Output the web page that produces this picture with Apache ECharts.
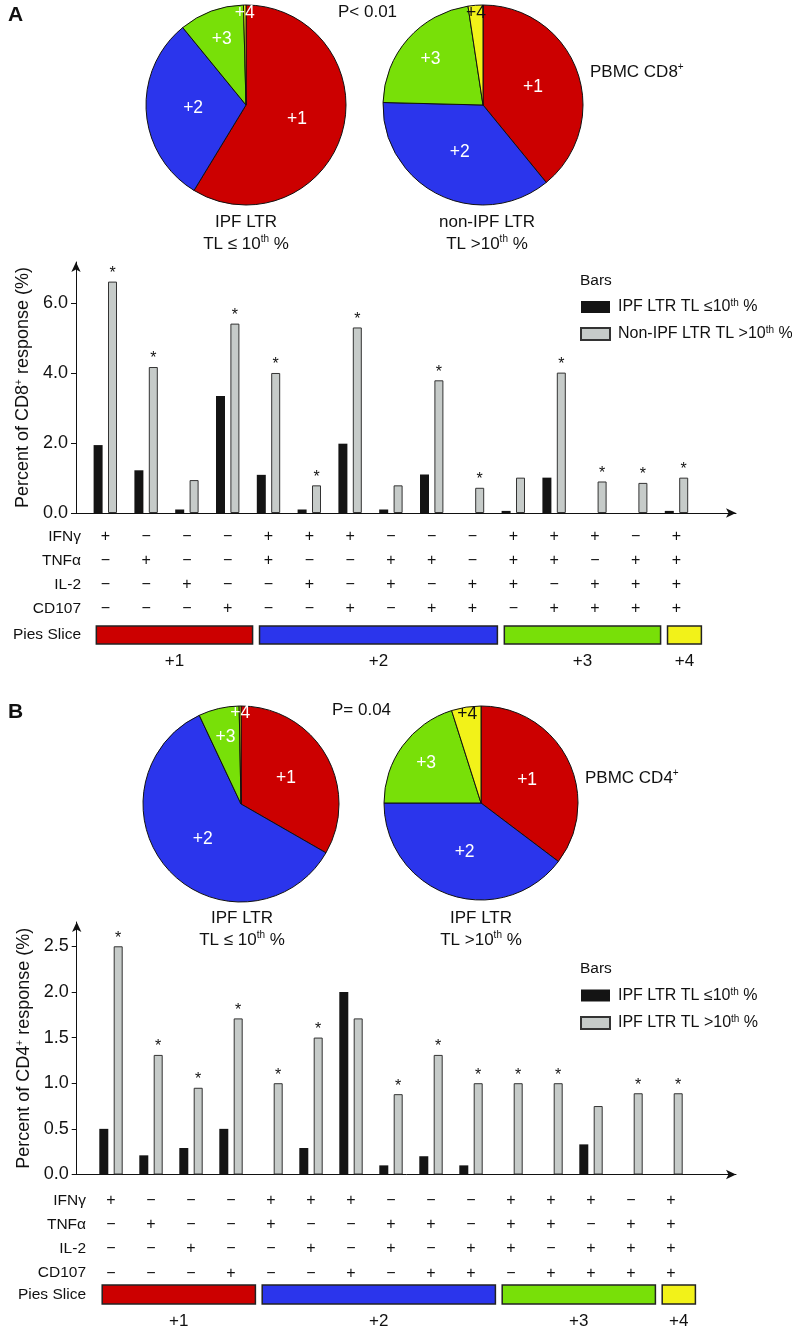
<!DOCTYPE html>
<html>
<head>
<meta charset="utf-8">
<script src="https://cdn.jsdelivr.net/npm/echarts@6/dist/echarts.min.js"></script>
<style>
  html, body { margin: 0; padding: 0; background: #fff; }
  #chart { width: 792px; height: 1330px; }
</style>
</head>
<body>
<div id="chart"></div>
<script>
// cytokine combinations (same order in both panels)
const IFNg  = ['+','−','−','−','+','+','+','−','−','−','+','+','+','−','+'];
const TNFa  = ['−','+','−','−','+','−','−','+','+','−','+','+','−','+','+'];
const IL2   = ['−','−','+','−','−','+','−','+','−','+','+','−','+','+','+'];
const CD107 = ['−','−','−','+','−','−','+','−','+','+','−','+','+','+','+'];
const rowNames = ['IFNγ', 'TNFα', 'IL-2', 'CD107', 'Pies Slice'];

// pie slices: [first combo, last combo] of each group
const sliceNames = ['+1', '+2', '+3', '+4'];
const sliceGroups = [[0, 3], [4, 9], [10, 13], [14, 14]];

// panel A - CD8
const cd8PieLow  = [58.7, 30.4, 10.5, 0.4];
const cd8PieHigh = [39.1, 36.3, 22.2, 2.4];
const cd8Low  = [1.94, 1.22, 0.10, 3.34, 1.09, 0.10, 1.98, 0.10, 1.10, 0, 0.06, 1.01, 0, 0, 0.06];
const cd8High = [6.61, 4.17, 0.94, 5.41, 4.00, 0.79, 5.30, 0.79, 3.79, 0.72, 1.01, 4.01, 0.90, 0.86, 1.01];
const cd8Sig  = [1, 1, 0, 1, 1, 1, 1, 0, 1, 1, 0, 1, 1, 1, 1];
const cd8Ticks = [0, 2, 4, 6];

// panel B - CD4
const cd4PieLow  = [33.3, 59.7, 6.7, 0.3];
const cd4PieHigh = [35.3, 39.7, 20.1, 4.9];
const cd4Low  = [0.50, 0.21, 0.29, 0.50, 0, 0.29, 2.00, 0.10, 0.20, 0.10, 0, 0, 0.33, 0, 0];
const cd4High = [2.50, 1.31, 0.95, 1.71, 1.00, 1.50, 1.71, 0.88, 1.31, 1.00, 1.00, 1.00, 0.75, 0.89, 0.89];
const cd4Sig  = [1, 1, 1, 1, 1, 1, 0, 1, 1, 1, 1, 1, 0, 1, 1];
const cd4Ticks = [0, 0.5, 1, 1.5, 2, 2.5];

const cats = IFNg.map((v, i) => v + TNFa[i] + IL2[i] + CD107[i]);

const FONT = '"Liberation Sans", Arial, sans-serif';
const INK = '#111';
const sliceColors = ['#cc0000', '#2b35ec', '#78e008', '#f2f219'];
const SUP = { sup: { fontSize: 10, verticalAlign: 'top', lineHeight: 10, fontFamily: FONT, fill: INK, color: INK } };
const supText = s => s.replace('10th', '10{sup|th}');

const chart = echarts.init(document.getElementById('chart'));

function txt(x, y, text, opt) {
  return {
    type: 'text', x: x, y: y, silent: true,
    style: Object.assign({
      text: text, fontFamily: FONT, fontSize: 17, fill: INK,
      align: 'left', verticalAlign: 'middle', lineHeight: 20, rich: SUP
    }, opt || {})
  };
}

/** pie with inside labels, small slices pushed outwards */
function pieSeries(values, center, r) {
  const total = values.reduce((a, b) => a + b, 0);
  return {
    type: 'pie', center: center, radius: r, startAngle: 90, clockwise: true,
    silent: true, animation: false,
    itemStyle: { borderColor: INK, borderWidth: 1 },
    label: { show: true, position: 'inside', formatter: '{b}', fontFamily: FONT, fontSize: 17.5 },
    labelLine: { show: false },
    labelLayout: function (p) {
      const share = values[p.dataIndex] / total;
      const f = share < 0.05 ? 0.87 : share < 0.25 ? 0.66 : 0.5;
      const k = f / 0.5 - 1;
      const lx = p.labelRect.x + p.labelRect.width / 2;
      const ly = p.labelRect.y + p.labelRect.height / 2;
      return { dx: k * (lx - center[0]), dy: k * (ly - center[1]) };
    },
    data: values.map((v, i) => ({
      value: v, name: sliceNames[i],
      itemStyle: { color: sliceColors[i] },
      label: { color: (i === 3 && v > 1) ? INK : '#fff' }
    }))
  };
}

/** one bar panel: bars grid, frame grid (axes with arrows), slice row grid */
function panel(cfg) {
  const g0 = cfg.gridBase;
  const grids = [
    { left: cfg.barLeft, width: cfg.step * 15, top: cfg.top, height: cfg.zero - cfg.top },
    { left: cfg.frameLeft, width: cfg.frameRight - cfg.frameLeft, top: cfg.top, height: cfg.zero - cfg.top },
    { left: cfg.barLeft, width: cfg.step * 15, top: cfg.boxTop, height: cfg.boxH }
  ];
  const axisLine = { show: true, lineStyle: { color: INK, width: 1 }, symbol: ['none', 'arrow'], symbolSize: [7, 10] };
  const xAxes = [
    { gridIndex: g0, type: 'category', data: cats,
      axisLine: { show: false }, axisTick: { show: false },
      axisLabel: { interval: 0, formatter: v => v.split('').join('\n'), fontFamily: FONT, fontSize: 16,
        color: INK, lineHeight: cfg.rowGap, margin: cfg.rowMargin } },
    { gridIndex: g0 + 1, type: 'value', min: 0, max: 1, axisLine: axisLine,
      axisTick: { show: false }, axisLabel: { show: false }, splitLine: { show: false } },
    { gridIndex: g0 + 2, type: 'category', data: cats, show: false }
  ];
  const yAxes = [
    { gridIndex: g0, type: 'value', min: 0, max: cfg.yMax, show: false, splitLine: { show: false } },
    { gridIndex: g0 + 1, type: 'value', min: 0, max: cfg.yMax, axisLine: axisLine,
      axisTick: { show: true, length: 5, lineStyle: { color: INK }, customValues: cfg.ticks },
      axisLabel: { customValues: cfg.ticks, formatter: v => v.toFixed(1), fontFamily: FONT, fontSize: 18, color: INK, margin: 8 },
      splitLine: { show: false },
      name: cfg.yName, nameLocation: 'middle', nameGap: 41,
      nameTextStyle: { fontFamily: FONT, fontSize: 18, color: INK, rich: SUP } },
    { gridIndex: g0 + 2, type: 'value', min: 0, max: 1, show: false }
  ];
  const series = [
    { type: 'bar', name: cfg.names[0], xAxisIndex: cfg.axBase, yAxisIndex: cfg.axBase,
      barWidth: 9, barGap: '60%', itemStyle: { color: '#141414' }, data: cfg.low, animation: false },
    { type: 'bar', name: cfg.names[1], xAxisIndex: cfg.axBase, yAxisIndex: cfg.axBase,
      barWidth: 9, barGap: '60%', itemStyle: { color: '#c6cbc9', borderColor: '#333', borderWidth: 1 },
      label: { position: 'top', distance: 0, formatter: '*', fontFamily: FONT, fontSize: 16, color: INK },
      data: cfg.high.map((v, i) => ({ value: v, label: { show: !!cfg.sig[i] } })), animation: false },
    { type: 'custom', xAxisIndex: cfg.axBase + 2, yAxisIndex: cfg.axBase + 2, silent: true, animation: false,
      data: sliceGroups.map((g, i) => [g[0], g[1], i]),
      renderItem: function (params, api) {
        const bw = api.size([1, 0])[0];
        const x0 = api.coord([api.value(0), 0])[0] - bw * (0.5 - 0.28);
        const x1 = api.coord([api.value(1), 0])[0] + bw * (0.5 + 0.11);
        const gi = api.value(2);
        const cs = params.coordSys;
        return { type: 'group', children: [
          { type: 'rect', shape: { x: x0, y: cs.y, width: x1 - x0, height: cs.height },
            style: { fill: sliceColors[gi], stroke: '#222', lineWidth: 1.5 } },
          { type: 'text', style: { text: sliceNames[gi], x: (x0 + x1) / 2, y: cs.y + cs.height + 17,
            align: 'center', verticalAlign: 'middle', fontFamily: FONT, fontSize: 17, fill: INK } }
        ] };
      } }
  ];
  const firstRow = cfg.zero + cfg.rowMargin + cfg.rowGap / 2;
  const labels = rowNames.map((n, i) => txt(cfg.rowRight, i < 4 ? firstRow + i * cfg.rowGap : cfg.boxTop + cfg.boxH / 2,
    n, { align: 'right', fontSize: 15.5 }));
  const legend = {
    left: 580, top: cfg.legendTop, orient: 'vertical', padding: 0,
    itemWidth: 29, itemHeight: 12, itemGap: cfg.legendGap,
    icon: 'rect', selectedMode: false, data: cfg.names,
    formatter: supText,
    textStyle: { fontFamily: FONT, fontSize: 16, color: INK, lineHeight: 17, padding: [0, 0, 0, 3], rich: SUP }
  };
  labels.push(txt(580, cfg.legendTop - 18, 'Bars', { fontSize: 15.5 }));
  return { grids, xAxes, yAxes, series, labels, legend };
}

const A = panel({
  gridBase: 0, axBase: 0, barLeft: 84.9, step: 40.8, frameLeft: 76, frameRight: 736,
  top: 262, zero: 513, yMax: 7.17, ticks: cd8Ticks, boxTop: 626, boxH: 18,
  rowGap: 24, rowMargin: 12, rowRight: 81,
  yName: 'Percent of CD8{sup|+} response (%)',
  names: ['IPF LTR TL ≤10th %', 'Non-IPF LTR TL >10th %'],
  low: cd8Low, high: cd8High, sig: cd8Sig, legendTop: 298.5, legendGap: 10
});
const B = panel({
  gridBase: 3, axBase: 3, barLeft: 91, step: 40, frameLeft: 76.7, frameRight: 736,
  top: 922, zero: 1174.5, yMax: 2.766, ticks: cd4Ticks, boxTop: 1285, boxH: 19,
  rowGap: 24.2, rowMargin: 14, rowRight: 86,
  yName: 'Percent of CD4{sup|+} response (%)',
  names: ['IPF LTR TL ≤10th %', 'IPF LTR TL >10th %'],
  low: cd4Low, high: cd4High, sig: cd4Sig, legendTop: 987, legendGap: 10.5
});

const graphic = [
  txt(8, 15, 'A', { fontSize: 21, fontWeight: 'bold' }),
  txt(338, 12, 'P< 0.01'),
  txt(590, 72, 'PBMC CD8{sup|+}'),
  txt(246, 222, 'IPF LTR', { align: 'center' }),
  txt(246, 244, 'TL ≤ 10{sup|th} %', { align: 'center' }),
  txt(487, 222, 'non-IPF LTR', { align: 'center' }),
  txt(487, 244, 'TL >10{sup|th} %', { align: 'center' }),
  txt(8, 712, 'B', { fontSize: 21, fontWeight: 'bold' }),
  txt(332, 710, 'P= 0.04'),
  txt(585, 778, 'PBMC CD4{sup|+}'),
  txt(242, 918, 'IPF LTR', { align: 'center' }),
  txt(242, 940, 'TL ≤ 10{sup|th} %', { align: 'center' }),
  txt(481, 918, 'IPF LTR', { align: 'center' }),
  txt(481, 940, 'TL >10{sup|th} %', { align: 'center' })
].concat(A.labels, B.labels);

const option = {
  animation: false,
  backgroundColor: '#fff',
  textStyle: { fontFamily: FONT },
  grid: A.grids.concat(B.grids),
  xAxis: A.xAxes.concat(B.xAxes),
  yAxis: A.yAxes.concat(B.yAxes),
  legend: [A.legend, B.legend],
  graphic: graphic,
  series: [
    pieSeries(cd8PieLow, [246, 105], 100),
    pieSeries(cd8PieHigh, [483, 105], 100),
    pieSeries(cd4PieLow, [241, 804], 98),
    pieSeries(cd4PieHigh, [481, 803], 97)
  ].concat(A.series, B.series)
};
chart.setOption(option);
</script>
</body>
</html>
